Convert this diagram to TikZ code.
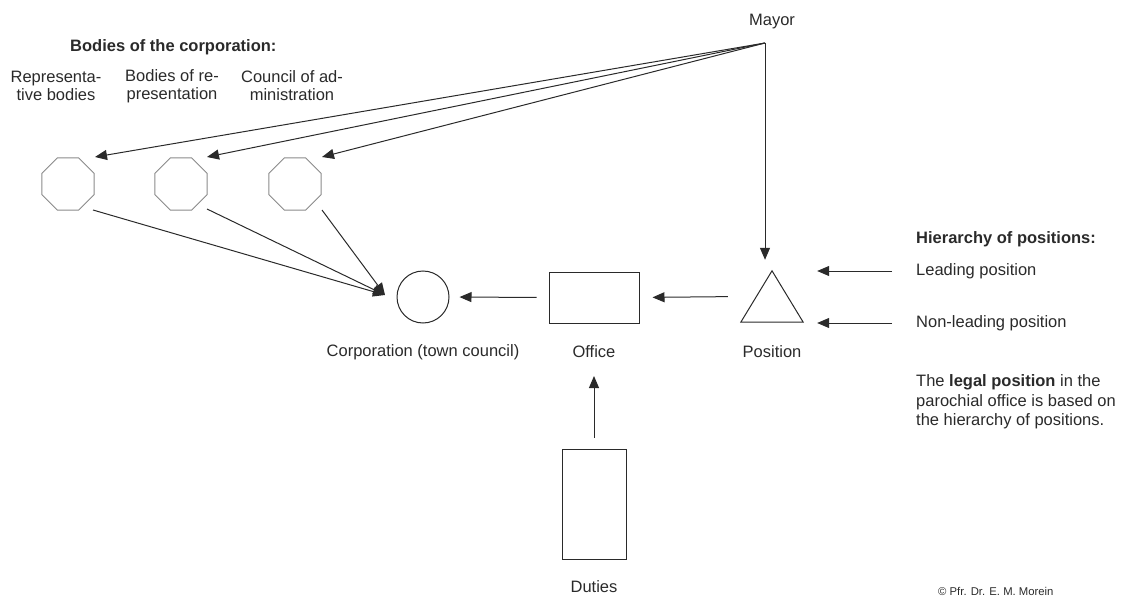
\documentclass[tikz,border=0pt]{standalone}
\usepackage{fontspec}
\setmainfont{Liberation Sans}
\usetikzlibrary{arrows.meta,shapes.geometric,calc}
\definecolor{ink}{HTML}{2A2A2A}
\definecolor{soft}{HTML}{8A8A8A}
\tikzset{
  line/.style={draw=ink, line width=1pt},
  arr/.style={line, -{Triangle[length=12pt,width=10pt]}},
  octa/.style={regular polygon, regular polygon sides=8, minimum size=56.3pt,
    inner sep=0pt, draw=soft, line width=1pt},
  lbl/.style={inner sep=0pt, text=ink, font=\fontsize{16.5}{18}\selectfont, align=center},
  para/.style={lbl, align=left, font=\fontsize{16.5}{19.5}\selectfont},
}
\begin{document}
\begin{tikzpicture}[x=1pt, y=-1pt]
  \useasboundingbox (0,0) rectangle (1124,599);

  % headings and captions
  \node[lbl, anchor=west, font=\fontsize{16.5}{18}\selectfont\bfseries] (bodies) at (70,47) {Bodies of the corporation:};
  \node[lbl] (l1) at (56,86) {Representa-\\tive bodies};
  \node[lbl] (l2) at (172,86) {Bodies of re-\\presentation};
  \node[lbl] (l3) at (292,86) {Council of ad-\\ministration};
  \node[lbl] (mayor) at (772,22) {Mayor};
  \coordinate (hub) at (765,43);

  % bodies of the corporation
  \node[octa] (o1) at (68,184) {};
  \node[octa] (o2) at (181,184) {};
  \node[octa] (o3) at (295,184) {};

  % main chain
  \node[circle, line, minimum size=52pt, inner sep=0pt] (corp) at (423,297) {};
  \node[rectangle, line, minimum width=90pt, minimum height=51pt, inner sep=0pt] (off) at (594,297.5) {};
  \node[rectangle, minimum width=62pt, minimum height=51pt, inner sep=0pt] (pos) at (772,296.5) {};
  \draw[line] (pos.north) -- (pos.south east) -- (pos.south west) -- cycle;
  \node[rectangle, line, minimum width=64pt, minimum height=110pt, inner sep=0pt] (duties) at (594,504) {};

  \node[lbl] (corplbl) at (423,352) {Corporation (town council)};
  \node[lbl] (offlbl) at (594,352) {Office};
  \node[lbl] (poslbl) at (772,352) {Position};
  \node[lbl] (dutlbl) at (594,587) {Duties};

  % right-hand notes
  \node[lbl, anchor=west, font=\fontsize{16.5}{18}\selectfont\bfseries] (hier) at (916,239) {Hierarchy of positions:};
  \node[lbl, anchor=west] (lead) at (916,271) {Leading position};
  \node[lbl, anchor=west] (nonlead) at (916,323) {Non-leading position};
  \node[para, anchor=west] (note) at (916,402) {The \textbf{legal position} in the\\parochial office is based on\\the hierarchy of positions.};
  \node[lbl, anchor=west, font=\fontsize{11.3}{13}\selectfont] (copy) at (938,591) {© Pfr. Dr. E. M. Morein};

  % mayor's connections
  \draw[arr] (hub) -- ($(o1)+(27,-27)$);
  \draw[arr] (hub) -- ($(o2)+(26,-27)$);
  \draw[arr] (hub) -- ($(o3)+(27,-27)$);
  \draw[arr, shorten >=11pt] (hub) -- (hub |- pos.north);

  % bodies feeding the corporation
  \coordinate (cin) at (385,295);
  \draw[arr] ($(o1)+(25,26)$) -- (cin);
  \draw[arr] ($(o2)+(26,25)$) -- (cin);
  \draw[arr] ($(o3)+(27,26)$) -- (cin);

  % chain arrows
  \draw[arr, shorten <=12pt, shorten >=10pt] (off.west) -- (corp.east);
  \draw[arr, shorten <=13pt, shorten >=13pt] (pos.west) -- (off.east);
  \draw[arr, shorten <=11pt, shorten >=24pt] (duties.north) -- (offlbl.center);

  % hierarchy arrows
  \draw[arr, shorten <=24pt, shorten >=14pt] (lead.west) -- (lead.west -| pos.east);
  \draw[arr, shorten <=24pt, shorten >=14pt] (nonlead.west) -- (nonlead.west -| pos.east);
\end{tikzpicture}
\end{document}
